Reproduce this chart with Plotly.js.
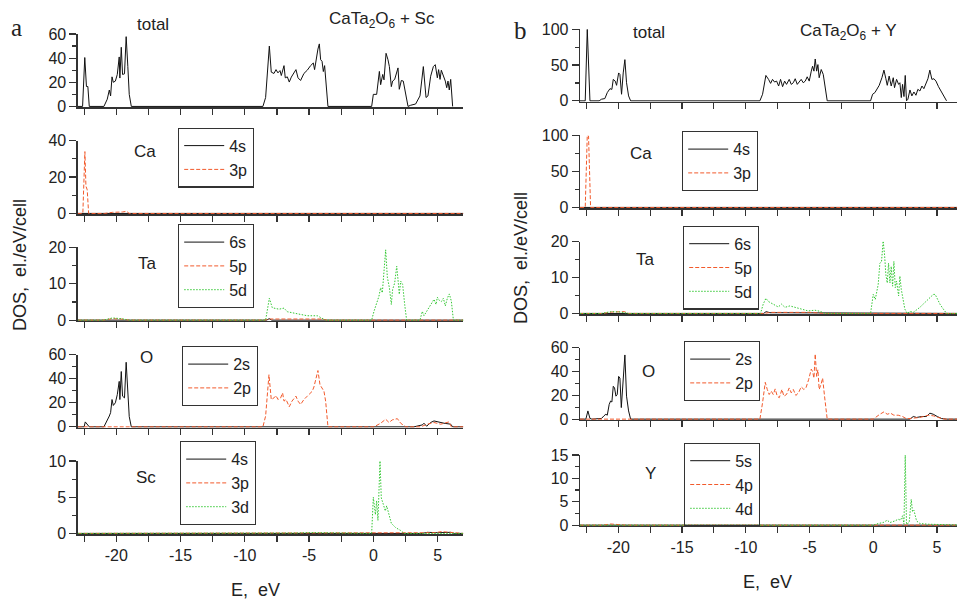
<!DOCTYPE html>
<html><head><meta charset="utf-8">
<script src="https://cdn.plot.ly/plotly-3.0.1.min.js"></script>
<style>html,body{margin:0;padding:0;background:#fff;}#chart{width:957px;height:600px;}</style>
</head><body><div id="chart"></div>
<script>
// ---------------- DATA (energies in eV, DOS in el./eV/cell) ----------------
// Panel a: CaTa2O6 + Sc
const aTotE = [-23,-22.62,-22.45,-22.32,-22.21,-22.1,-20.96,-20.70,-20.54,-20.44,-20.33,-20.23,-20.07,-19.92,-19.77,-19.72,-19.61,-19.51,-19.36,-19.23,-19.10,-18.99,-18.83,-8.59,-8.38,-8.09,-7.94,-7.73,-7.57,-7.42,-7.26,-7.16,-6.95,-6.85,-6.69,-6.54,-6.38,-6.23,-6.02,-5.86,-5.66,-5.40,-5.14,-4.88,-4.67,-4.57,-4.41,-4.31,-4.20,-4.10,-3.99,-3.89,-3.79,-3.68,-3.53,-0.13,0.0,0.26,0.47,0.57,0.73,0.83,0.99,1.14,1.25,1.40,1.50,1.66,1.82,1.92,2.02,2.18,2.33,2.49,2.70,2.91,3.29,3.63,3.89,4.10,4.25,4.46,4.67,4.82,4.98,5.08,5.19,5.29,5.45,5.60,5.71,5.81,5.91,6.02,6.17];
const aTotD = [0,0,40.5,16.5,16.5,0,0,6,13.6,8.7,24.5,20,21,26.5,41,23.5,49,26.5,27,57.8,33,10,0,0,7.4,50,28.4,27.3,30.5,27.8,29.7,25.6,33.8,23.7,24.5,20.2,24.3,26.5,30.5,23.7,21.5,27.3,30,33.8,36,30.5,42.8,47.5,51.8,38.7,37.4,28.9,33.8,19.6,0,0,10,10,29,18,26.5,22,44,38.7,33,16.4,21,22.4,28.4,31.9,14.2,21.5,21,11.5,0,1,2,8.7,33,7.4,8.7,25,33,34.6,23.7,30.5,22.4,30,25.6,21,15.5,21,13.6,22.4,0];

const aCa4sE = [-23,-20.5,-19.8,-19.2,7];
const aCa4sD = [0,0,0.3,0,0];
const aCa3pE = [-23,-22.6,-22.44,-22.36,-22.26,-22.15,-20.9,-20.3,-19.5,-19.2,-19.0,7];
const aCa3pD = [0,0,34,15,13,0,0,0.6,0.8,1.2,0,0];

const aTa6sE = [-23,-8.3,-8.1,-7.9,7];
const aTa6sD = [0,0,0.4,0,0];
const aTa5pE = [-23,-21,-20.3,-19.6,-19,-8.5,-8.0,-6,-4,-3.6,7];
const aTa5pD = [0,0,0.4,0.3,0,0,0.3,0.3,0.3,0,0];
const aTa5dE = [-23,-21,-20.3,-19.6,-19,-8.38,-8.09,-7.86,-7.34,-6.95,-6.69,-6.17,-5.66,-5.14,-4.36,-3.97,-3.71,-0.13,0.05,0.44,0.57,0.70,0.83,0.96,1.09,1.25,1.40,1.50,1.66,1.82,1.92,2.02,2.13,2.28,2.44,2.59,3.63,3.81,3.94,4.25,4.51,4.72,4.88,4.98,5.14,5.29,5.45,5.60,5.76,5.91,6.07,6.23,7];
const aTa5dD = [0,0,0.6,0.4,0,0,6,3.4,3,3.3,2.3,1.9,1.6,1.2,1.2,0.5,0,0,2.4,6.6,8.9,7.5,13.8,19.3,11.8,8.9,4.3,8.4,10.2,14.8,11.1,7.1,10.7,9.8,4.3,0,0,2.4,1.2,3,4.8,5.7,4.3,6.3,5.4,5.1,6,3.9,6,7.2,5.2,0,0];

const aO2sE = [-23,-22.5,-22.41,-22.2,-22.1,-20.96,-20.70,-20.54,-20.44,-20.33,-20.23,-20.07,-19.92,-19.77,-19.72,-19.61,-19.51,-19.36,-19.23,-19.10,-18.99,-18.83,3.16,3.81,3.94,4.15,4.46,4.72,4.98,5.50,6.02,6.17,7];
const aO2sD = [0,0,4.1,0.8,0,0,4.9,9,11.8,22.7,17.8,20,26.8,37.8,22.7,46,25.5,24.1,53.7,28.2,8.5,0,0,1.6,3,0.5,3.6,4.9,4.1,3,2.2,0,0];
const aO2pE = [-23,-8.59,-8.38,-8.12,-7.94,-7.73,-7.57,-7.42,-7.21,-7.06,-6.95,-6.79,-6.54,-6.33,-6.02,-5.86,-5.66,-5.40,-5.14,-4.75,-4.62,-4.46,-4.31,-4.15,-3.99,-3.84,-3.71,-3.53,0.05,0.57,0.96,1.22,1.48,1.87,2.13,2.52,3.68,4.20,4.72,5.24,5.89,6.07,7];
const aO2pD = [0,0,9,43.3,22.7,24.1,26,22.7,24.1,28.2,21.4,22.7,16.7,21.4,25.5,21.4,18.6,22.7,25.5,29.6,33.2,39.2,46.8,35,32.3,29.6,21.4,0,0,3,6.3,3.6,5.8,6.8,3,0,0,2.2,3.6,2.2,4.1,0,0];

const aSc4sE = [-23,3.8,4.2,5.0,6.0,6.3,7];
const aSc4sD = [0,0,0.15,0.1,0.15,0,0];
const aSc3pE = [-23,4.0,4.8,5.3,6.0,6.4,7];
const aSc3pD = [0,0,0.1,0.25,0.15,0,0];
const aSc3dE = [-23,-8.5,-6,-5,-4,-3.6,-0.13,0,0.16,0.26,0.36,0.52,0.62,0.78,0.93,1.04,1.25,1.40,1.74,2.13,2.39,7];
const aSc3dD = [0,0,0.05,0.12,0.1,0,0,5,2.6,4.5,1.8,10,4.9,4,3.1,3.8,2.6,1.4,0.8,0.4,0,0];

// Panel b: CaTa2O6 + Y
const bTotE = [-23,-22.59,-22.43,-22.22,-21.5,-21.31,-21.05,-20.86,-20.65,-20.50,-20.39,-20.24,-20.13,-19.97,-19.87,-19.74,-19.61,-19.48,-19.35,-19.19,-19.03,-8.89,-8.68,-8.42,-8.21,-8.05,-7.90,-7.74,-7.58,-7.42,-7.27,-7.11,-6.95,-6.80,-6.59,-6.43,-6.27,-6.12,-5.96,-5.80,-5.65,-5.49,-5.33,-5.18,-5.02,-4.86,-4.76,-4.65,-4.55,-4.44,-4.34,-4.24,-4.08,-3.92,-3.79,-3.61,-0.21,-0.05,0.13,0.31,0.47,0.68,0.84,0.99,1.10,1.25,1.41,1.57,1.67,1.83,1.99,2.09,2.20,2.30,2.41,2.51,2.61,2.72,2.88,3.03,3.19,3.35,3.50,3.66,3.82,3.97,4.13,4.29,4.44,4.60,4.76,4.92,5.12,5.33,5.54,5.75];
const bTotD = [0,0,100,0,0,2.3,3.2,11.5,17,16,30,27.6,21.7,39,36.9,9.2,39,57.6,25.3,6.9,0,0,9.2,35.5,30,24.4,30,26.3,27.6,20.7,30,19.8,27.6,23,30,23,25.3,30.9,23,26.3,30,25.3,27.6,33.6,27.6,41.5,48.4,41.5,58.5,41.5,50.7,32.3,43.8,36.9,18.4,0,0,9.2,11.5,16,21.7,32.3,42.9,30.9,21.7,34.6,20.7,32.3,18.4,30,23,25.3,4.6,23,6,35.5,0,2.3,15.2,6.9,12.4,7.8,16.1,13.8,20.7,17,25.3,30.9,42.9,30,30.9,27.6,19.8,13.8,6,0];

const bCa4sE = [-23,-21,-20.2,-19.5,7];
const bCa4sD = [0,0,0.4,0,0];
const bCa3pE = [-23,-22.59,-22.43,-22.33,-22.17,-21.2,-20.5,-19.8,-19.2,7];
const bCa3pD = [0,0,100,99,0,0,0.8,1.0,0,0];

const bTa6sE = [-23,-8.6,-8.4,-8.1,-7.5,-4,-3.7,7];
const bTa6sD = [0,0,0.5,0.2,0.2,0.2,0,0];
const bTa5pE = [-23,-21.2,-20.5,-19.5,-19.2,-8.6,-8,-5,-3.8,0,0.5,2.5,2.7,7];
const bTa5pD = [0,0,0.4,0.5,0,0,0.3,0.3,0,0,0.2,0.2,0,0];
const bTa5dE = [-23,-21.3,-20.6,-19.8,-19.2,-8.84,-8.63,-8.42,-8.21,-7.84,-7.45,-7.19,-6.93,-6.54,-6.14,-5.62,-5.10,-4.58,-4.18,-3.79,-0.21,0,0.16,0.39,0.52,0.65,0.78,0.89,0.99,1.10,1.20,1.31,1.41,1.52,1.62,1.73,1.83,1.99,2.09,2.20,2.30,2.48,2.67,2.88,3.14,3.40,3.66,3.92,4.18,4.50,4.71,4.86,5.02,5.23,5.44,5.62,5.75,7];
const bTa5dD = [0,0,0.5,0.4,0,0,2.6,4.2,3.3,2.6,1.8,2.6,1.7,2.1,1.7,1.2,0.7,0.9,0.6,0,0,5.3,3.9,8.1,14,14.5,20.2,16.3,10.8,8.5,14,8.5,13.1,7.6,14.5,7.2,9,4.9,10.4,6.7,4.4,1.2,0,0.6,0.3,0.9,1.7,2.6,3.5,4.6,5.3,5.3,3.9,2.6,1.5,0.6,0,0];

const bO2sE = [-23,-22.54,-22.38,-22.22,-22.07,-21.31,-21.12,-20.97,-20.86,-20.71,-20.60,-20.50,-20.39,-20.29,-20.18,-20.08,-19.97,-19.87,-19.76,-19.61,-19.48,-19.35,-19.19,-19.03,2.88,3.14,3.40,3.79,4.18,4.44,4.71,5.02,5.36,5.75,7];
const bO2sD = [0,0,6.9,0.6,0,0.6,2.8,4.1,3.3,12.4,15.2,14.4,27.6,26.2,19.3,20.7,35.9,34.5,9.7,33.1,53.9,19.3,6.9,0,0,2.2,1.4,2.2,2.2,5,4.1,2.2,0.5,0,0];
const bO2pE = [-23,-8.89,-8.68,-8.47,-8.31,-8.16,-8.0,-7.84,-7.69,-7.53,-7.37,-7.16,-7.01,-6.80,-6.59,-6.43,-6.27,-6.07,-5.86,-5.65,-5.44,-5.28,-5.07,-4.86,-4.76,-4.65,-4.55,-4.44,-4.34,-4.24,-4.08,-3.97,-3.82,-3.61,0,0.26,0.52,0.84,1.10,1.36,1.62,1.96,2.30,2.61,3.14,3.66,4.31,4.71,5.10,5.62,7];
const bO2pD = [0,0,13.8,30.9,24.9,20.7,23.5,20.7,25.4,19.3,18,24.9,19.3,20.7,26.2,22.1,24.9,19.9,22.1,27.1,24.9,26.2,33.1,42,40,34.5,54.7,35.9,41.4,24.9,29.8,34.5,19.3,0,0,2.2,4.1,6.1,4.1,5,3.3,3.3,2.2,0.3,0.6,1.4,3.3,2.8,1.4,0,0];

const bY5sE = [-23,2,3,4,5,7];
const bY5sD = [0,0,0.1,0.1,0,0];
const bY4pE = [-23,-21.2,-20.6,-20.0,-19.4,7];
const bY4pD = [0,0,0.25,0.2,0,0];
const bY4dE = [-23,-8.5,-6,-4,-3.5,0,0.39,0.78,1.10,1.31,1.70,1.96,2.14,2.30,2.41,2.51,2.61,2.82,2.98,3.08,3.19,3.40,3.66,4.31,5.75,7];
const bY4dD = [0,0,0.1,0.1,0,0,0.35,0.56,1.06,0.56,0.9,1.27,1.06,2,0.2,15.1,0.2,0.56,5.5,2.9,3.2,0.9,0.35,0.2,0.1,0];

// tick labels
const xTickVals = [-20,-15,-10,-5,0,5];
const xTickText = ['-20','-15','-10','-5','0','5'];

// ---------------- STYLE / LAYOUT ----------------
const W = 957, H = 600;
const px = x => x / W, py = y => 1 - y / H;
const BLACK = '#111111', ORANGE = '#f25a2c', GREEN = '#33c733';
const FONT = 'Liberation Sans, Arial, sans-serif';
const TXT = '#222222', AX = '#333333';
const DASH = '4px,2px', DOT = '1.5px,1.5px';

// subplot definitions: [index, x0px, x1px, bottomPx(y=0), topPx(y=max), ymax, dtick, minor, xmax, showX]
const subplots = [
  [1, 77.7, 463.3, 107.3, 34, 60, 20, 10, 7, false],
  [2, 77.7, 463.3, 214.3, 140.7, 40, 20, 10, 7, false],
  [3, 77.7, 463.3, 321, 247.3, 20, 10, 5, 7, false],
  [4, 77.7, 463.3, 427.7, 354.7, 60, 20, 10, 7, false],
  [5, 77.7, 463.3, 534.3, 461, 10, 5, 2.5, 7, true],
  [6, 580, 957, 101.7, 29.3, 100, 50, 25, 6.57, false],
  [7, 580, 957, 208.3, 135.3, 100, 50, 25, 6.57, false],
  [8, 580, 957, 314.3, 241.7, 20, 10, 5, 6.57, false],
  [9, 580, 957, 420, 347.7, 60, 20, 10, 6.57, false],
  [10, 580, 957, 526, 455, 15, 5, 2.5, 6.57, true]
];

const layout = {
  width: W, height: H,
  margin: {l: 0, r: 0, t: 0, b: 0, pad: 0},
  paper_bgcolor: '#ffffff', plot_bgcolor: 'rgba(0,0,0,0)',
  font: {family: FONT, color: TXT, size: 16},
  showlegend: true,
  annotations: []
};

subplots.forEach(s => {
  const [i, x0, x1, yb, yt, ymax, dt, mn, xmax, showX] = s;
  const sx = i === 1 ? '' : String(i);
  layout['xaxis' + sx] = {
    domain: [px(x0), Math.min(1, px(x1))],
    range: [-23, xmax],
    anchor: 'y' + sx,
    showline: true, linecolor: AX, linewidth: 1.3,
    showgrid: false, zeroline: false,
    ticks: 'outside', ticklen: 6, tickwidth: 1.2, tickcolor: AX,
    tickmode: 'array', tickvals: xTickVals, ticktext: xTickText,
    showticklabels: showX,
    tickfont: {family: FONT, size: 16, color: TXT},
    minor: {tickmode: 'linear', tick0: 0, dtick: 2.5, ticks: 'outside', ticklen: 6, tickwidth: 1.2, tickcolor: AX, showgrid: false},
    fixedrange: true
  };
  layout['yaxis' + sx] = {
    domain: [py(yb), py(yt)],
    range: [-ymax * 0.012, ymax],
    anchor: 'x' + sx,
    showline: true, linecolor: AX, linewidth: 1.3,
    showgrid: false, zeroline: false,
    ticks: 'outside', ticklen: 7, tickwidth: 1.2, tickcolor: AX,
    tickmode: 'linear', tick0: 0, dtick: dt,
    tickfont: {family: FONT, size: 16, color: TXT},
    minor: {tickmode: 'linear', tick0: 0, dtick: mn, ticks: 'outside', ticklen: 4, tickwidth: 1.2, tickcolor: AX, showgrid: false},
    fixedrange: true
  };
});

// legends: [id, leftPx, topPx]
const legendPos = [
  ['legend', 178, 127.5], ['legend2', 178, 224], ['legend3', 182, 346], ['legend4', 180, 441],
  ['legend5', 682, 131], ['legend6', 683, 225.6], ['legend7', 684, 341], ['legend8', 684, 442.6]
];
legendPos.forEach(([id, lx, ty]) => {
  layout[id] = {
    x: px(lx), y: py(ty), xanchor: 'left', yanchor: 'top',
    xref: 'paper', yref: 'paper',
    bgcolor: 'rgba(255,255,255,0)', bordercolor: AX, borderwidth: 1.2,
    font: {family: FONT, size: 16, color: TXT},
    itemwidth: 40,
    tracegroupgap: 0, traceorder: 'normal'
  };
});

function tr(x, y, ax, color, dash, name, legend) {
  const sx = ax === 1 ? '' : String(ax);
  const t = {
    type: 'scatter', mode: 'lines', x: x, y: y,
    xaxis: 'x' + sx, yaxis: 'y' + sx,
    line: {color: color, width: 1, dash: dash},
    name: name || '', hoverinfo: 'skip'
  };
  if (legend) { t.legend = legend; t.showlegend = true; } else { t.showlegend = false; }
  return t;
}

const data = [
  tr(aTotE, aTotD, 1, BLACK, 'solid'),
  tr(aCa4sE, aCa4sD, 2, BLACK, 'solid', '4s', 'legend'),
  tr(aCa3pE, aCa3pD, 2, ORANGE, DASH, '3p', 'legend'),
  tr(aTa6sE, aTa6sD, 3, BLACK, 'solid', '6s', 'legend2'),
  tr(aTa5pE, aTa5pD, 3, ORANGE, DASH, '5p', 'legend2'),
  tr(aTa5dE, aTa5dD, 3, GREEN, DOT, '5d', 'legend2'),
  tr(aO2sE, aO2sD, 4, BLACK, 'solid', '2s', 'legend3'),
  tr(aO2pE, aO2pD, 4, ORANGE, DASH, '2p', 'legend3'),
  tr(aSc4sE, aSc4sD, 5, BLACK, 'solid', '4s', 'legend4'),
  tr(aSc3pE, aSc3pD, 5, ORANGE, DASH, '3p', 'legend4'),
  tr(aSc3dE, aSc3dD, 5, GREEN, DOT, '3d', 'legend4'),
  tr(bTotE, bTotD, 6, BLACK, 'solid'),
  tr(bCa4sE, bCa4sD, 7, BLACK, 'solid', '4s', 'legend5'),
  tr(bCa3pE, bCa3pD, 7, ORANGE, DASH, '3p', 'legend5'),
  tr(bTa6sE, bTa6sD, 8, BLACK, 'solid', '6s', 'legend6'),
  tr(bTa5pE, bTa5pD, 8, ORANGE, DASH, '5p', 'legend6'),
  tr(bTa5dE, bTa5dD, 8, GREEN, DOT, '5d', 'legend6'),
  tr(bO2sE, bO2sD, 9, BLACK, 'solid', '2s', 'legend7'),
  tr(bO2pE, bO2pD, 9, ORANGE, DASH, '2p', 'legend7'),
  tr(bY5sE, bY5sD, 10, BLACK, 'solid', '5s', 'legend8'),
  tr(bY4pE, bY4pD, 10, ORANGE, DASH, '4p', 'legend8'),
  tr(bY4dE, bY4dD, 10, GREEN, DOT, '4d', 'legend8')
];

function note(text, x, y, size, opts) {
  return Object.assign({
    text: text, x: px(x), y: py(y), xref: 'paper', yref: 'paper',
    showarrow: false, xanchor: 'center', yanchor: 'middle',
    font: {family: FONT, size: size, color: TXT}
  }, opts || {});
}
const SERIF = {family: 'Liberation Serif, Times New Roman, serif', size: 25, color: TXT};
layout.annotations = [
  note('a', 16, 27, 25, {font: SERIF}),
  note('b', 520, 31, 25, {font: SERIF}),
  note('total', 153, 25, 17),
  note('CaTa<sub>2</sub>O<sub>6</sub> + Sc', 382, 20, 17),
  note('total', 649, 32, 17),
  note('CaTa<sub>2</sub>O<sub>6</sub> + Y', 848, 32, 17),
  note('Ca', 145, 151, 17), note('Ta', 147, 263, 17), note('O', 146, 357, 17), note('Sc', 146, 477, 17),
  note('Ca', 641, 154, 17), note('Ta', 645, 259, 17), note('O', 648, 371, 17), note('Y', 650, 473, 17),
  note('DOS,\u00a0 el./eV/cell', 20, 265, 18, {textangle: -90}),
  note('DOS,\u00a0 el./eV/cell', 521, 258, 18, {textangle: -90}),
  note('E,\u00a0 eV', 255, 590, 18),
  note('E,\u00a0 eV', 767, 582, 18)
];

Plotly.newPlot('chart', data, layout, {staticPlot: true, displayModeBar: false});
</script>
</body></html>
